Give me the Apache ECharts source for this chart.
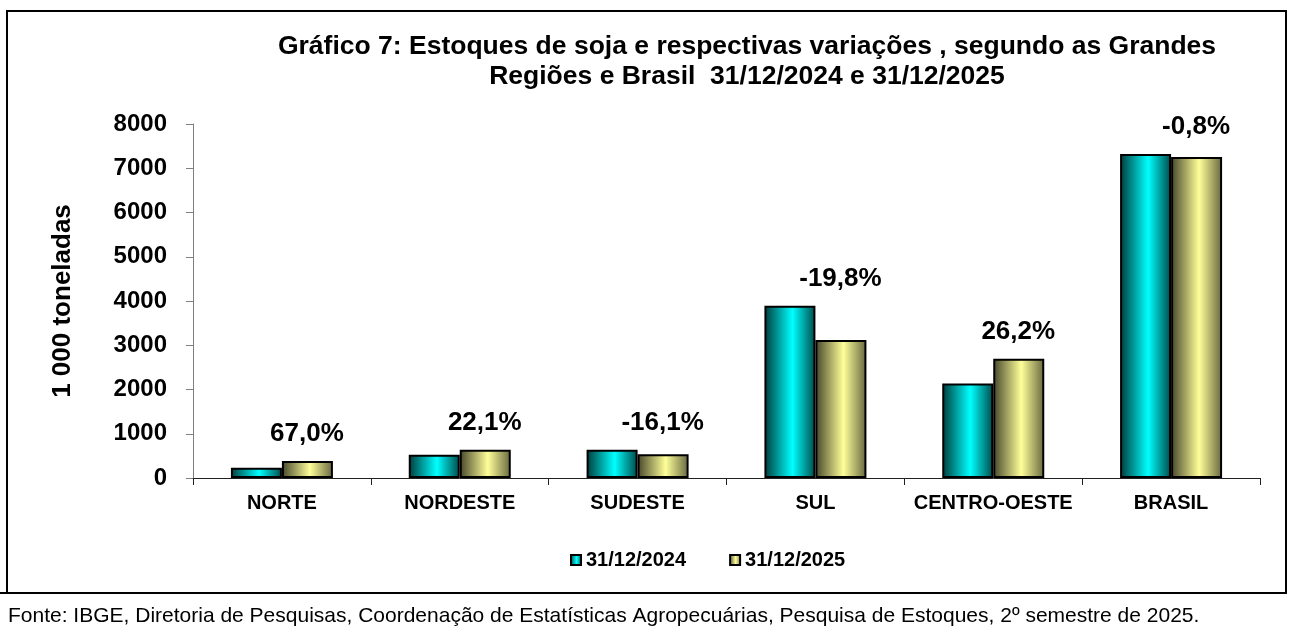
<!DOCTYPE html>
<html>
<head>
<meta charset="utf-8">
<script src="https://cdn.jsdelivr.net/npm/echarts@6/dist/echarts.min.js"></script>
<style>
  html, body { margin: 0; padding: 0; background: #fff; }
  #main { width: 1293px; height: 639px; }
</style>
</head>
<body>
<div id="main"></div>
<script>
// dados
const regioes = ['NORTE', 'NORDESTE', 'SUDESTE', 'SUL', 'CENTRO-OESTE', 'BRASIL']
const estoque2024 = [230, 525, 640, 3890, 2136, 7322]
const estoque2025 = [384, 641, 537, 3116, 2694, 7254]
const variacoes = ['67,0%', '22,1%', '-16,1%', '-19,8%', '26,2%', '-0,8%']
const yTicks = [0, 1000, 2000, 3000, 4000, 5000, 6000, 7000, 8000]

const fonte = 'Liberation Sans, Arial, sans-serif'

const cyanGrad = new echarts.graphic.LinearGradient(0, 0, 1, 0, [
  { offset: 0, color: '#003a3a' },
  { offset: 0.55, color: '#00ffff' },
  { offset: 1, color: '#004848' }
])
const yellowGrad = new echarts.graphic.LinearGradient(0, 0, 1, 0, [
  { offset: 0, color: '#45452a' },
  { offset: 0.55, color: '#ffff99' },
  { offset: 1, color: '#66663f' }
])

// rótulo de variação fica acima da barra mais alta do par
const topoPar = estoque2024.map((v, i) => Math.max(v, estoque2025[i]))

const chart = echarts.init(document.getElementById('main'))

chart.setOption({
  animation: false,
  title: {
    text: 'Gráfico 7: Estoques de soja e respectivas variações , segundo as Grandes\nRegiões e Brasil  31/12/2024 e 31/12/2025',
    left: 742,
    top: 27,
    textAlign: 'center',
    textStyle: { fontFamily: fonte, fontWeight: 'bold', fontSize: 26.5, lineHeight: 30, color: '#000' }
  },
  legend: {
    data: ['31/12/2024', '31/12/2025'],
    icon: 'rect',
    left: 565,
    top: 545,
    itemWidth: 10,
    itemHeight: 10,
    itemGap: 43,
    textStyle: { fontFamily: fonte, fontWeight: 'bold', fontSize: 20, color: '#000' }
  },
  grid: { left: 193, right: 33, top: 124, bottom: 161 },
  xAxis: {
    type: 'category',
    data: regioes,
    axisLine: { lineStyle: { color: '#202020', width: 1 } },
    axisTick: { show: true, length: 7, lineStyle: { color: '#202020' } },
    axisLabel: { interval: 0, fontFamily: fonte, fontWeight: 'bold', fontSize: 20, color: '#000', margin: 15 }
  },
  yAxis: {
    type: 'value',
    min: yTicks[0],
    max: yTicks[yTicks.length - 1],
    interval: 1000,
    name: '1 000 toneladas',
    nameLocation: 'middle',
    nameRotate: 90,
    nameGap: 117,
    nameTextStyle: { fontFamily: fonte, fontWeight: 'bold', fontSize: 26, color: '#000' },
    axisLine: { show: true, lineStyle: { color: '#808080' } },
    axisTick: { show: true, length: 7, lineStyle: { color: '#808080' } },
    splitLine: { show: false },
    axisLabel: {
      formatter: v => String(v),
      fontFamily: fonte, fontWeight: 'bold', fontSize: 24, color: '#000', margin: 26
    }
  },
  series: [
    {
      name: '31/12/2024',
      type: 'bar',
      data: estoque2024,
      barWidth: 51,
      barGap: '0%',
      itemStyle: { color: cyanGrad, borderColor: '#000', borderWidth: 2 }
    },
    {
      name: '31/12/2025',
      type: 'bar',
      data: estoque2025,
      barWidth: 51,
      itemStyle: { color: yellowGrad, borderColor: '#000', borderWidth: 2 }
    },
    {
      name: 'variacao',
      type: 'scatter',
      data: topoPar,
      symbolSize: 0,
      silent: true,
      itemStyle: { opacity: 1 },
      label: {
        show: true,
        position: 'top',
        distance: 14,
        offset: [25, 0],
        formatter: p => variacoes[p.dataIndex],
        fontFamily: fonte,
        fontWeight: 'bold',
        fontSize: 26,
        color: '#000',
        opacity: 1
      }
    }
  ],
  graphic: [
    {
      type: 'polyline',
      shape: { points: [[7, 593], [7, 11], [1286, 11], [1286, 593], [0, 593]] },
      style: { fill: null, stroke: '#000', lineWidth: 2 }
    },
    {
      type: 'text',
      left: 8,
      top: 606,
      style: {
        text: 'Fonte: IBGE, Diretoria de Pesquisas, Coordenação de Estatísticas Agropecuárias, Pesquisa de Estoques, 2º semestre de 2025.',
        font: '21px "Liberation Sans", Arial, sans-serif',
        fill: '#000'
      }
    }
  ]
})
</script>
</body>
</html>
